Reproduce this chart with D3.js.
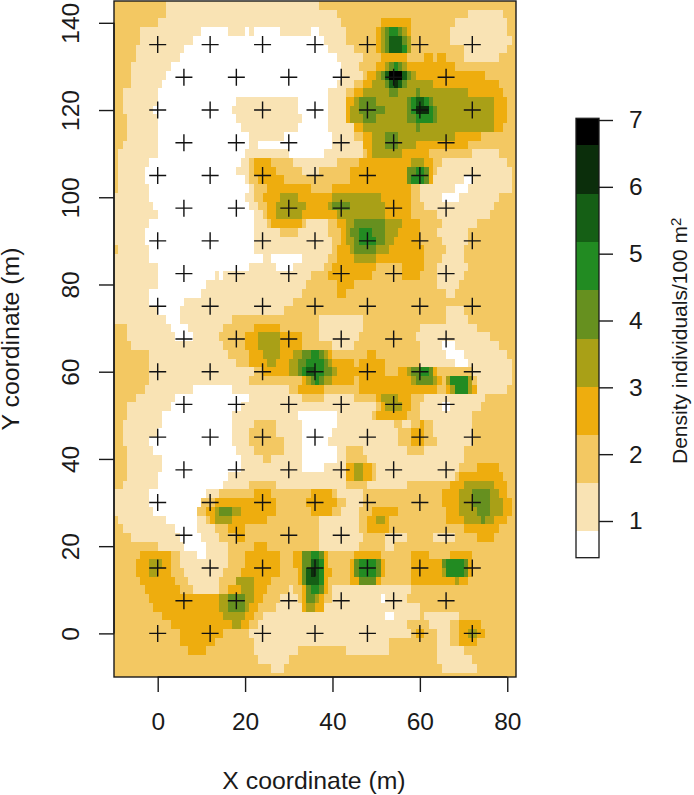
<!DOCTYPE html>
<html>
<head>
<meta charset="utf-8">
<script src="https://cdnjs.cloudflare.com/ajax/libs/d3/7.8.5/d3.min.js"></script>
<style>
    html, body { margin: 0; padding: 0; background: #fff; }
    svg { display: block; }
    text { font-family: "Liberation Sans", Arial, sans-serif; fill: #1a1a1a; }
</style>
</head>
<body>
<div id="chart"></div>
<script>

// Density classes, lowest to highest
var classColors = ['#ffffff', '#f9e3b4', '#f3c862', '#eead0e', '#a9a017', '#66901f', '#228b22', '#155f15', '#0b2e0b', '#000000'];

// Class limits
var classBreaks = [0.46, 0.85, 1.57, 2.29, 3.01, 3.73, 4.46, 5.18, 5.90, 6.63, 7.02];

var xTicks = [0, 20, 40, 60, 80];
var yTicks = [0, 20, 40, 60, 80, 100, 120, 140];
var barTicks = [1, 2, 3, 4, 5, 6, 7];

// Sampling stations: rows alternate between the two x lists
var stationY = [0, 7.5, 15, 22.5, 30, 37.5, 45, 52.5, 60, 67.5, 75, 82.5, 90, 97.5, 105, 112.5, 120, 127.5, 135];
var stationXEven = [0, 12, 24, 36, 48, 60, 72];
var stationXOdd = [6, 18, 30, 42, 54, 66];

// Y of each raster row, top to bottom
var rowY = [144, 142, 140, 138, 136, 134, 132, 130, 128, 126, 124, 122, 120, 118, 116, 114, 112, 110, 108, 106,
    104, 102, 100, 98, 96, 94, 92, 90, 88, 86, 84, 82, 80, 78, 76, 74, 72, 70, 68, 66, 64, 62, 60, 58, 56, 54,
    52, 50, 48, 46, 44, 42, 40, 38, 36, 34, 32, 30, 28, 26, 24, 22, 20, 18, 16, 14, 12, 10, 8, 6, 4, 2, 0,
    -2, -4, -6, -8, -10];

// Raster rows as runs, "class:x where the run ends"; no end means up to the right edge
var rowRuns = [
    "2:2 1:37 2",
    "2:2 1:41 2:71 1:79 2",
    "2:0 1:42 2:51 3:58 2:68 1:80 2",
    "2:-4 1:10 0:16 1:20 0:21 1:22 0:28 1:35 0:37 1:43 2:50 3:51 4:52 5:53 6:55 5:56 4:57 3:58 2:67 1:80 2",
    "2:-4 1:8 0:38 1:43 2:50 3:51 4:52 5:53 7:56 5:57 4:58 2:67 1:81 2",
    "2:-5 1:6 0:39 1:45 2:50 3:51 4:52 5:53 7:56 6:57 4:58 2:70 1:80 2",
    "2:-5 1:5 0:41 1:47 2:51 3:57 2:61 3:63 2:64 3:66 2:70 1:78 2",
    "2:-6 1:3 0:42 1:46 2:50 3:52 4:53 5:54 6:55 5:56 4:57 3:68 2",
    "2:-6 1:2 0:42 1:47 2:48 3:50 4:51 5:52 7:53 9:56 7:57 5:58 4:59 3:75 2",
    "2:-6 1:1 0:41 1:45 2:47 3:49 4:52 5:53 7:54 8:55 7:56 5:57 4:63 3:78 2",
    "2:-8 1:0 0:39 1:43 2:45 3:47 4:53 5:55 4:59 5:60 4:71 3:79 2",
    "2:-8 1:0 0:18 1:32 0:39 1:43 3:45 4:46 5:50 4:57 5:58 6:59 7:61 6:62 5:63 4:77 3:80 2",
    "2:-8 1:-1 0:17 1:32 0:39 1:43 3:44 4:46 5:52 4:57 5:58 6:59 8:62 6:63 5:64 4:77 3:80 2",
    "2:-7 1:0 0:18 1:33 0:39 1:43 3:44 4:47 5:50 4:57 5:59 6:63 5:64 4:77 3:80 2",
    "2:-7 1:0 0:19 1:32 0:39 1:45 3:47 4:59 5:60 4:77 3:79 2",
    "2:-7 1:0 0:21 1:29 0:40 1:45 2:47 3:49 4:52 5:55 4:68 3:74 2",
    "2:-8 1:0 0:21 1:23 0:40 1:47 3:49 4:52 5:55 4:59 3:71 2",
    "2:-9 1:0 0:20 1:30 0:38 1:47 2:48 3:49 4:56 3:62 2:72 1:78 2",
    "2:-9 1:-2 0:19 1:21 2:22 3:26 2:31 1:41 2:46 3:58 4:61 3:63 2:65 1:80 2",
    "2:-9 1:-3 0:18 1:21 2:22 3:27 2:33 1:37 2:44 3:57 5:59 6:61 5:62 3:63 2:64 1:81 2",
    "2:-9 1:-3 0:20 1:21 2:23 3:29 2:44 3:57 5:58 6:61 5:62 3:63 1:70 0:72 1:81 2",
    "2:-9 1:-2 0:21 1:22 2:25 3:35 2:40 3:58 2:60 1:68 0:71 1:81 2",
    "2:-10 1:-2 0:20 1:22 2:24 3:28 4:32 3:40 4:51 3:58 2:60 1:65 0:69 1:78 2",
    "1:-1 0:21 1:23 2:25 3:27 4:34 3:39 4:40 5:44 4:52 3:58 2:61 1:77 2",
    "1:0 0:22 1:24 2:25 3:27 4:33 3:41 4:52 3:58 2:64 1:76 2",
    "1:-2 0:22 1:25 2:26 3:33 2:34 1:39 2:41 3:43 4:45 5:52 4:56 3:60 2:65 1:73 2",
    "1:-3 0:22 1:28 2:32 1:39 2:42 3:43 4:44 5:46 6:49 5:52 4:55 3:60 2:64 1:71 2",
    "1:-3 0:22 1:40 2:42 3:43 4:45 5:46 6:50 5:52 4:54 3:60 2:65 1:71 2",
    "2:-9 1:-2 0:22 1:40 2:41 3:44 4:45 5:50 4:53 3:61 2:66 1:70 2",
    "1:-2 0:24 1:26 0:33 1:39 2:41 3:45 4:50 3:61 2:65 1:70 2",
    "1:0 0:21 1:27 0:31 1:38 2:40 3:50 2:56 3:61 2:64 1:71 2",
    "1:0 0:13 1:14 0:15 1:35 2:39 3:49 2:56 3:60 2:64 1:70 2",
    "1:0 0:11 1:34 2:41 3:45 2:64 1:69 2",
    "1:-2 0:10 1:33 2:41 3:43 2:66 1:68 2",
    "1:-2 0:6 1:31 2",
    "1:0 0:5 1:29 2:66 1:70 2",
    "1:2 0:5 1:17 2:37 1:47 2:66 1:71 2",
    "2:-7 1:3 0:7 1:15 2:22 3:28 2:37 1:47 2:60 1:73 2",
    "2:-7 1:4 0:8 1:14 2:20 3:23 4:28 3:33 2:37 1:46 2:59 1:76 2",
    "2:-6 1:15 2:20 3:23 4:28 3:33 2:40 1:45 2:60 1:65 0:68 1:78 2",
    "2:-2 1:16 2:21 3:24 4:28 3:31 4:33 5:35 6:37 5:38 4:39 3:40 2:48 3:50 2:60 1:66 0:70 1:80 2",
    "2:-2 1:18 2:21 3:25 4:27 3:30 4:32 5:34 6:38 5:39 4:40 3:45 2:46 3:52 2:60 1:68 0:71 1:81 2",
    "2:-2 1:22 2:24 3:30 4:32 5:33 6:34 7:36 6:38 5:40 4:41 3:52 2:55 3:57 4:58 5:60 6:62 5:63 3:64 2:72 1:81 2",
    "2:-2 1:21 2:33 3:34 4:35 5:36 6:37 5:38 4:40 3:45 2:46 3:58 4:59 5:63 4:64 3:65 2:66 4:67 6:71 4:72 2:73 1:81 2",
    "2:-3 1:8 0:17 1:30 2:32 3:38 2:46 3:64 2:66 3:67 4:68 6:71 4:72 3:73 1:80 2",
    "2:-5 1:4 0:21 1:33 2:38 1:45 2:50 3:51 4:55 3:58 2:61 1:75 2",
    "2:-7 1:3 0:19 1:50 2:51 3:52 4:56 3:58 2:60 1:65 0:67 1:74 2",
    "2:-7 1:1 0:17 1:32 0:41 1:49 2:50 3:57 2:60 1:72 2",
    "2:-8 1:1 0:17 1:22 2:27 1:33 0:41 1:54 2:56 1:58 2:60 3:61 2:63 1:72 2",
    "2:-8 1:0 0:17 1:21 2:27 1:33 0:40 1:55 2:58 3:61 2:63 1:72 2",
    "2:-8 1:-2 0:17 1:21 2:29 1:33 0:39 1:55 2:58 3:61 2:64 1:72 2",
    "2:-7 1:-1 0:18 1:22 2:29 1:33 0:41 1:43 2:47 1:57 2:61 1:70 2",
    "2:-7 1:1 0:19 1:24 2:26 1:33 0:41 1:43 2:48 1:70 2",
    "2:-7 1:1 0:19 1:33 0:38 1:43 3:45 4:47 3:49 2:50 1:69 2:73 3:78 2",
    "2:-7 1:0 0:16 1:43 3:45 4:47 3:49 2:50 1:68 2:69 3:79 2",
    "2:-8 1:0 0:15 1:21 2:27 1:43 2:48 1:57 2:67 3:70 4:77 3:80 2",
    "2:-10 1:-2 0:11 1:14 2:22 3:26 2:35 3:40 2:41 1:47 2:65 3:69 4:72 5:76 4:78 3:80 2",
    "1:-2 0:10 2:13 3:27 2:34 3:41 2:43 1:47 2:65 3:69 4:72 5:76 4:79 3:81 2",
    "1:-1 0:9 2:11 3:13 4:14 5:17 4:19 3:27 2:35 3:40 2:42 1:46 2:49 3:55 2:66 3:69 4:73 5:76 4:79 3:81 2",
    "2:-9 1:2 0:9 1:11 2:12 3:13 4:17 3:25 2:37 1:46 2:48 3:50 4:52 3:53 2:66 3:70 4:74 5:75 4:77 3:80 2",
    "2:-8 1:4 0:9 1:13 2:16 3:20 2:37 1:46 2:48 3:53 2:70 3:78 2",
    "2:-6 1:5 0:10 1:14 2:18 3:20 2:37 1:47 2:52 1:57 2:63 1:68 2:73 3:77 2",
    "2:0 1:6 0:11 1:16 2:22 3:25 2:37 1:46 2:52 1:54 2",
    "2:-4 3:3 2:5 1:9 0:11 1:16 2:20 3:28 2:31 3:33 5:35 6:37 5:38 3:39 2:45 3:51 2:58 3:62 2:67 3:72 2",
    "2:-5 3:-2 4:1 3:3 2:5 1:16 2:20 3:28 2:31 3:33 5:35 7:37 6:38 3:39 2:44 3:45 5:46 6:50 5:51 3:52 2:58 3:65 5:66 6:70 5:71 3:72 2",
    "2:-5 3:-2 4:0 3:3 2:6 1:15 2:19 3:28 2:32 3:33 5:34 7:35 8:36 7:37 6:38 3:40 2:44 3:45 5:46 6:50 5:51 3:52 2:58 3:65 4:66 6:70 5:71 3:72 2",
    "2:-4 3:4 2:7 1:14 2:18 4:22 3:26 2:32 3:33 5:34 7:37 6:38 3:39 2:44 3:46 5:50 3:51 2:58 3:68 4:69 3:71 2",
    "2:-3 3:5 2:8 1:14 2:16 3:19 4:22 3:25 2:30 1:31 2:33 3:34 5:35 6:37 5:38 3:39 2:40 1:58 2",
    "2:-2 3:14 4:16 5:20 4:22 3:24 2:28 1:32 2:33 3:34 5:36 4:37 3:38 2:40 1:51 0:52 1:57 2",
    "2:-1 3:14 4:16 5:20 4:21 3:23 2:27 1:33 3:34 4:36 3:38 1:60 2",
    "2:1 3:15 4:20 3:22 2:24 1:52 0:54 1:60 2:61 1:69 2",
    "2:3 3:17 4:19 3:21 2:23 1:57 2:62 1:67 2:69 3:74 2",
    "2:5 3:15 2:21 1:58 2:59 3:61 2:64 1:67 2:69 3:71 4:73 3:75 2",
    "2:5 3:13 2:22 1:53 2:64 1:67 2:69 3:73 2",
    "2:7 3:11 2:22 1:32 2:43 1:53 2:64 1:70 2",
    "2:23 1:30 2:64 1:72 2",
    "2:26 1:29 2:65 1:73 2",
    "2"
];

// Chart dimension variables
var width = 694,
    height = 795,
    plot = {left: 114, right: 516, top: 1, bottom: 677},
    bar = {left: 576, right: 599, top: 118.3, bottom: 557.7},
    fontSize = 24.5,
    titleSize = 24.8,
    ink = '#1a1a1a'
;

var xScale = d3.scaleLinear().domain([-10, 82]).range([plot.left, plot.right]);
var yScale = d3.scaleLinear().domain([-10, 145]).range([plot.bottom, plot.top]);
var barScale = d3.scaleLinear().domain([1, 7]).range([521, 120]);

var svg = d3.select('#chart').append('svg')
    .attr('width', width)
    .attr('height', height)
;

// Turn the row strings into strips of one class each
var strips = [];
rowRuns.forEach(function(row, i) {
    var x0 = -10;
    row.split(' ').forEach(function(run) {
        var parts = run.split(':');
        var x1 = parts.length > 1 ? +parts[1] : 82;
        if (x1 > x0) {
            strips.push({level: +parts[0], x0: x0, x1: x1, y: rowY[i]});
            x0 = x1;
        }
    });
});

// Clip so the top and bottom rows stop at the box
svg.append('clipPath').attr('id', 'plot-clip')
    .append('rect')
    .attr('x', plot.left)
    .attr('y', plot.top)
    .attr('width', plot.right - plot.left)
    .attr('height', plot.bottom - plot.top)
;

svg.append('g')
    .attr('clip-path', 'url(#plot-clip)')
    .attr('shape-rendering', 'crispEdges')
    .selectAll('rect')
    .data(strips)
    .enter().append('rect')
    .attr('x', function(d) { return xScale(d.x0); })
    .attr('width', function(d) { return xScale(d.x1) - xScale(d.x0); })
    .attr('y', function(d) { return yScale(d.y + 1); })
    .attr('height', function(d) { return yScale(d.y - 1) - yScale(d.y + 1); })
    .attr('fill', function(d) { return classColors[d.level]; })
;

// Station crosses
var stations = [];
stationY.forEach(function(y, i) {
    (i % 2 === 0 ? stationXEven : stationXOdd).forEach(function(x) {
        stations.push({x: x, y: y});
    });
});

svg.append('g')
    .selectAll('path')
    .data(stations)
    .enter().append('path')
    .attr('d', function(d) {
        var px = xScale(d.x), py = yScale(d.y), r = 8.5;
        return 'M' + (px - r) + ',' + py + 'H' + (px + r) + 'M' + px + ',' + (py - r) + 'V' + (py + r);
    })
    .attr('fill', 'none')
    .attr('stroke', '#111')
    .attr('stroke-width', 1.4)
;

// Plot box
svg.append('rect')
    .attr('x', plot.left)
    .attr('y', plot.top)
    .attr('width', plot.right - plot.left)
    .attr('height', plot.bottom - plot.top)
    .attr('fill', 'none')
    .attr('stroke', ink)
    .attr('stroke-width', 1.4)
;

// Style shared by all three axes
function styleAxis(g) {
    g.selectAll('.domain').attr('stroke', ink).attr('stroke-width', 1.4);
    g.selectAll('.tick line').attr('stroke', ink).attr('stroke-width', 1.4);
    g.selectAll('.tick text').style('font-size', fontSize + 'px').attr('fill', ink);
}

// X axis
var xAxis = svg.append('g')
    .attr('transform', 'translate(0,' + plot.bottom + ')')
    .call(d3.axisBottom(xScale).tickValues(xTicks).tickSize(15).tickSizeOuter(0).tickPadding(20.5))
    .call(styleAxis)
;
xAxis.select('.domain').attr('d', 'M' + xScale(0) + ',0H' + xScale(80));

// Y axis, labels turned like the R default
var yAxis = svg.append('g')
    .attr('transform', 'translate(' + plot.left + ',0)')
    .call(d3.axisLeft(yScale).tickValues(yTicks).tickSize(15).tickSizeOuter(0))
    .call(styleAxis)
;
yAxis.select('.domain').attr('d', 'M0,' + yScale(0) + 'V' + yScale(140));
yAxis.selectAll('.tick text')
    .attr('transform', 'translate(-35.5,0) rotate(-90)')
    .attr('x', 0)
    .attr('dy', 0)
    .attr('y', 0)
    .style('text-anchor', 'middle')
;

// Axis titles
svg.append('text')
    .attr('x', 314)
    .attr('y', 789)
    .attr('text-anchor', 'middle')
    .style('font-size', titleSize + 'px')
    .text('X coordinate (m)')
;

svg.append('text')
    .attr('transform', 'translate(19,339) rotate(-90)')
    .attr('text-anchor', 'middle')
    .style('font-size', titleSize + 'px')
    .text('Y coordinate (m)')
;

// Colour bar
var barCells = classColors.map(function(c, i) {
    return {color: c, low: classBreaks[i], high: classBreaks[i + 1]};
});

svg.append('g')
    .attr('shape-rendering', 'crispEdges')
    .selectAll('rect')
    .data(barCells)
    .enter().append('rect')
    .attr('x', bar.left)
    .attr('width', bar.right - bar.left)
    .attr('y', function(d) { return barScale(d.high); })
    .attr('height', function(d) { return barScale(d.low) - barScale(d.high); })
    .attr('fill', function(d) { return d.color; })
;

svg.append('rect')
    .attr('x', bar.left)
    .attr('y', bar.top)
    .attr('width', bar.right - bar.left)
    .attr('height', bar.bottom - bar.top)
    .attr('fill', 'none')
    .attr('stroke', ink)
    .attr('stroke-width', 1.3)
;

svg.append('g')
    .attr('transform', 'translate(' + bar.right + ',0)')
    .call(d3.axisRight(barScale).tickValues(barTicks).tickFormat(d3.format('d')).tickSize(14).tickSizeOuter(0).tickPadding(16))
    .call(styleAxis)
    .call(function(g) { g.select('.domain').remove(); })
;

// Colour bar title with raised 2
var barTitle = svg.append('text')
    .attr('transform', 'translate(687,464) rotate(-90)')
    .style('font-size', '21px')
;
barTitle.append('tspan').text('Density individuals/100 m');
barTitle.append('tspan').attr('dy', '-0.42em').style('font-size', '15px').text('2');

</script>
</body>
</html>
